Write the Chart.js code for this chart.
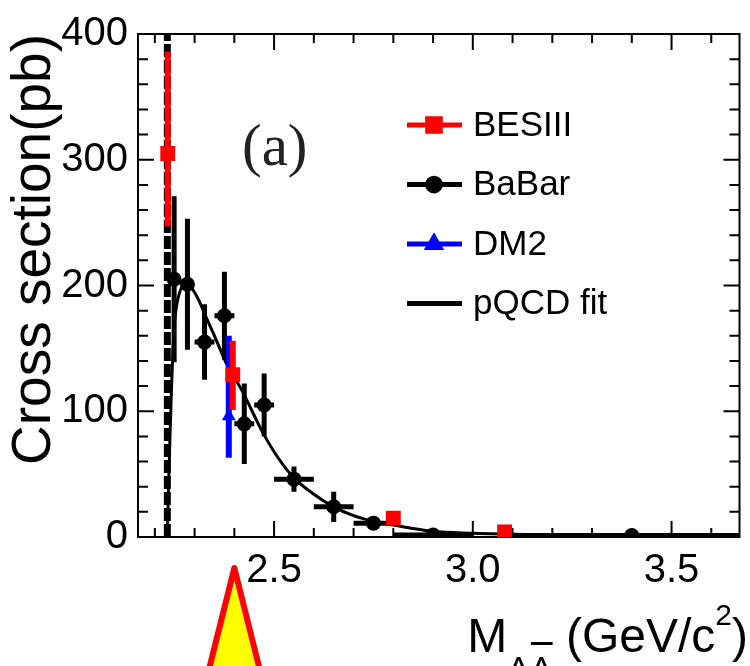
<!DOCTYPE html>
<html>
<head>
<meta charset="utf-8">
<script src="https://cdn.jsdelivr.net/npm/chart.js@4.4.0/dist/chart.umd.min.js"></script>
<style>
  html, body { margin: 0; padding: 0; background: #fff; }
</style>
</head>
<body>
<canvas id="myChart" width="750" height="666"></canvas>
<script>
// Cross section of e+e- -> Lambda Lambdabar vs invariant mass

const thresholdMass = 2.2314;   // 2 x M(Lambda)
const arrowMass = 2.4;

// BESIII
const besMass = [2.2324, 2.396, 2.8, 3.08];
const besXs = [305, 129, 15, 4];
const besErrHi = [81, 27, 3, 2];
const besErrLo = [58, 28, 3, 2];

// BaBar
const babarMass = [2.2485, 2.282, 2.325, 2.375, 2.425, 2.475, 2.55, 2.65, 2.75, 2.9, 3.4];
const babarXs = [205, 201, 155, 176, 90, 105, 46, 24, 11, 1.5, 1.2];
const babarErr = [66, 52, 30, 35, 32, 25, 10, 12, 5, 2, 1.5];
const babarBinHalf = [0.004, 0.012, 0.025, 0.025, 0.025, 0.025, 0.05, 0.05, 0.05, 0.1, 0.3];

// DM2
const dm2Mass = [2.386];
const dm2Xs = [96];
const dm2ErrHi = [64];
const dm2ErrLo = [33];

// pQCD fit
const fitMass = [2.2314, 2.234, 2.237, 2.241, 2.245, 2.25, 2.26, 2.27, 2.282, 2.295, 2.311, 2.33,
                 2.35, 2.38, 2.42, 2.47, 2.51, 2.55, 2.6, 2.65, 2.7, 2.75, 2.8, 2.9, 3.0, 3.08, 3.2];
const fitXs = [0, 35, 68, 110, 145, 172, 192, 200, 202, 197, 188, 174,
               160, 138, 116, 84, 63, 47, 34, 24, 17, 12.5, 9.5, 4.5, 3, 2.3, 1.5];

const xTicks = [2.5, 3.0, 3.5];
const yTicks = [0, 100, 200, 300, 400];

const FONT = '"Liberation Sans", Arial, sans-serif';

const pts = (xs, ys) => xs.map((v, i) => ({ x: v, y: ys[i] }));

// error bars, drawn just before the points of each dataset
const errorBars = {
    id: 'errorBars',
    beforeDatasetDraw(chart, args) {
        const ds = chart.data.datasets[args.index];
        if (!ds.errHi) return;
        const { x, y } = chart.scales;
        const ctx = chart.ctx;
        const a = chart.chartArea;
        ctx.save();
        ctx.beginPath();
        ctx.rect(a.left, a.top, a.right - a.left, a.bottom - a.top);
        ctx.clip();
        ctx.strokeStyle = ds.borderColor;
        ctx.lineWidth = ds.barWidth;
        ds.data.forEach((p, i) => {
            const px = x.getPixelForValue(p.x);
            const py = y.getPixelForValue(p.y);
            ctx.beginPath();
            ctx.moveTo(px, y.getPixelForValue(p.y + ds.errHi[i]));
            ctx.lineTo(px, y.getPixelForValue(Math.max(0, p.y - ds.errLo[i])));
            if (ds.xHalf) {
                ctx.moveTo(x.getPixelForValue(p.x - ds.xHalf[i]), py);
                ctx.lineTo(x.getPixelForValue(p.x + ds.xHalf[i]), py);
            }
            ctx.stroke();
        });
        ctx.restore();
    }
};

// ROOT style frame with inner ticks on all four sides
const frame = {
    id: 'frame',
    beforeDatasetsDraw(chart) {
        const { x, y } = chart.scales;
        const a = chart.chartArea;
        const ctx = chart.ctx;
        ctx.save();
        ctx.strokeStyle = '#000';
        ctx.lineWidth = 2;
        ctx.strokeRect(a.left, a.top, a.right - a.left, a.bottom - a.top);
        ctx.beginPath();
        for (let i = 22; i <= 36; i++) {
            const v = i / 10;
            const len = (i % 5 === 0) ? 16 : 9;
            const px = x.getPixelForValue(v);
            ctx.moveTo(px, a.bottom); ctx.lineTo(px, a.bottom - len);
            ctx.moveTo(px, a.top); ctx.lineTo(px, a.top + len);
        }
        for (let v = 20; v < 400; v += 20) {
            const len = (v % 100 === 0) ? 16 : 10;
            const py = y.getPixelForValue(v);
            ctx.moveTo(a.left, py); ctx.lineTo(a.left + len, py);
            ctx.moveTo(a.right, py); ctx.lineTo(a.right - len, py);
        }
        ctx.stroke();
        ctx.restore();
    }
};

// legend, "(a)", x title and the arrow
const extras = {
    id: 'extras',
    afterDraw(chart) {
        const ctx = chart.ctx;
        const { x, y } = chart.scales;
        ctx.save();

        // legend
        let row = 125;
        const items = chart.data.datasets.filter(d => d.legendOrder).sort((p, q) => p.legendOrder - q.legendOrder);
        items.forEach((ds) => {
            ctx.strokeStyle = ds.borderColor;
            ctx.fillStyle = ds.backgroundColor;
            ctx.lineWidth = 5;
            ctx.beginPath();
            ctx.moveTo(407, row); ctx.lineTo(462, row);
            ctx.stroke();
            if (ds.pointStyle && ds.pointRadius > 0) {
                Chart.helpers.drawPoint(ctx, { pointStyle: ds.pointStyle, radius: ds.pointRadius * 0.85, rotation: 0, borderWidth: 1 }, 434, row);
            }
            ctx.fillStyle = '#000';
            ctx.font = '35px ' + FONT;
            ctx.textBaseline = 'middle';
            ctx.textAlign = 'left';
            ctx.fillText(ds.label, 473, row + 1);
            row += 59.5;
        });

        // (a)
        ctx.fillStyle = '#222';
        ctx.font = '59px "Liberation Serif", "Times New Roman", serif';
        ctx.textBaseline = 'alphabetic';
        ctx.fillText('(a)', 242, 165);

        // x title: M_{ΛΛ̄} (GeV/c²)
        ctx.fillStyle = '#000';
        const big = '48px ' + FONT, sub = '34px ' + FONT, sup = '30px ' + FONT;
        const base = 652;
        ctx.font = big; const wM = ctx.measureText('M').width;
        ctx.font = sub; const wL = ctx.measureText('Λ').width;
        ctx.font = big; const wA = ctx.measureText(' (GeV/c').width;
        ctx.font = sup; const w2 = ctx.measureText('2').width;
        ctx.font = big; const wC = ctx.measureText(')').width;
        let cx = 748 - (wM + 2 * wL + wA + w2 + wC);
        ctx.font = big; ctx.fillText('M', cx, base); cx += wM;
        ctx.font = sub; ctx.fillText('ΛΛ', cx, base + 28);
        ctx.fillRect(cx + wL + 1, 642, wL - 1, 3);
        cx += 2 * wL;
        ctx.font = big; ctx.fillText(' (GeV/c', cx, base); cx += wA;
        ctx.font = sup; ctx.fillText('2', cx, base - 27); cx += w2;
        ctx.font = big; ctx.fillText(')', cx, base);

        // arrow
        const ax = x.getPixelForValue(arrowMass);
        const ay = chart.chartArea.bottom + 31;
        ctx.beginPath();
        ctx.moveTo(ax, ay);
        ctx.lineTo(ax - 34, ay + 136);
        ctx.lineTo(ax + 34, ay + 136);
        ctx.closePath();
        ctx.fillStyle = '#ffff00';
        ctx.fill();
        ctx.strokeStyle = '#ff0000';
        ctx.lineWidth = 6;
        ctx.lineJoin = 'round';
        ctx.stroke();

        ctx.restore();
    }
};

const ctx = document.getElementById('myChart').getContext('2d');

const myChart = new Chart(ctx, {
    type: 'scatter',
    data: {
        datasets: [
            {
                label: 'BESIII',
                data: pts(besMass, besXs),
                errHi: besErrHi, errLo: besErrLo, barWidth: 6,
                backgroundColor: '#ff0000', borderColor: '#ff0000',
                pointStyle: 'rect', pointRadius: 10.5, borderWidth: 0,
                legendOrder: 1
            },
            {
                label: 'DM2',
                data: pts(dm2Mass, dm2Xs),
                errHi: dm2ErrHi, errLo: dm2ErrLo, barWidth: 6,
                backgroundColor: '#0000ff', borderColor: '#0000ff',
                pointStyle: 'triangle', pointRadius: 8, borderWidth: 0,
                legendOrder: 3
            },
            {
                label: 'BaBar',
                data: pts(babarMass, babarXs),
                errHi: babarErr, errLo: babarErr, xHalf: babarBinHalf, barWidth: 5,
                backgroundColor: '#000', borderColor: '#000',
                pointStyle: 'circle', pointRadius: 7.5, borderWidth: 0,
                legendOrder: 2
            },
            {
                label: 'pQCD fit',
                data: pts(fitMass, fitXs),
                showLine: true, cubicInterpolationMode: 'monotone',
                borderColor: '#000', backgroundColor: '#000', borderWidth: 3,
                pointRadius: 0,
                legendOrder: 4
            },
            {
                label: 'threshold',
                data: pts([thresholdMass, thresholdMass], [0, 400]),
                showLine: true, borderColor: '#000', borderWidth: 7,
                borderDash: [13, 3], pointRadius: 0
            }
        ]
    },
    options: {
        responsive: false,
        animation: false,
        layout: { padding: { top: 27, right: 2, left: 0, bottom: 0 } },
        plugins: {
            legend: { display: false },
            tooltip: { enabled: false }
        },
        scales: {
            x: {
                type: 'linear',
                min: 2.1576,
                max: 3.671,
                afterFit: (s) => { s.height = 129; },
                afterBuildTicks: (s) => { s.ticks = xTicks.map(v => ({ value: v })); },
                ticks: {
                    font: { family: FONT, size: 40 },
                    color: '#000',
                    padding: 10,
                    maxRotation: 0,
                    autoSkip: false,
                    callback: (v) => v.toFixed(1)
                },
                grid: { display: false, drawTicks: false },
                border: { display: false }
            },
            y: {
                min: 0,
                max: 400,
                afterFit: (s) => { s.width = 138; },
                afterBuildTicks: (s) => { s.ticks = yTicks.map(v => ({ value: v })); },
                ticks: {
                    font: { family: FONT, size: 40 },
                    color: '#000',
                    padding: 10
                },
                grid: { display: false, drawTicks: false },
                border: { display: false },
                title: {
                    display: true,
                    text: 'Cross section(pb)',
                    align: 'end',
                    color: '#000',
                    font: { family: FONT, size: 55 },
                    padding: 2
                }
            }
        }
    },
    plugins: [frame, errorBars, extras]
});
</script>
</body>
</html>
